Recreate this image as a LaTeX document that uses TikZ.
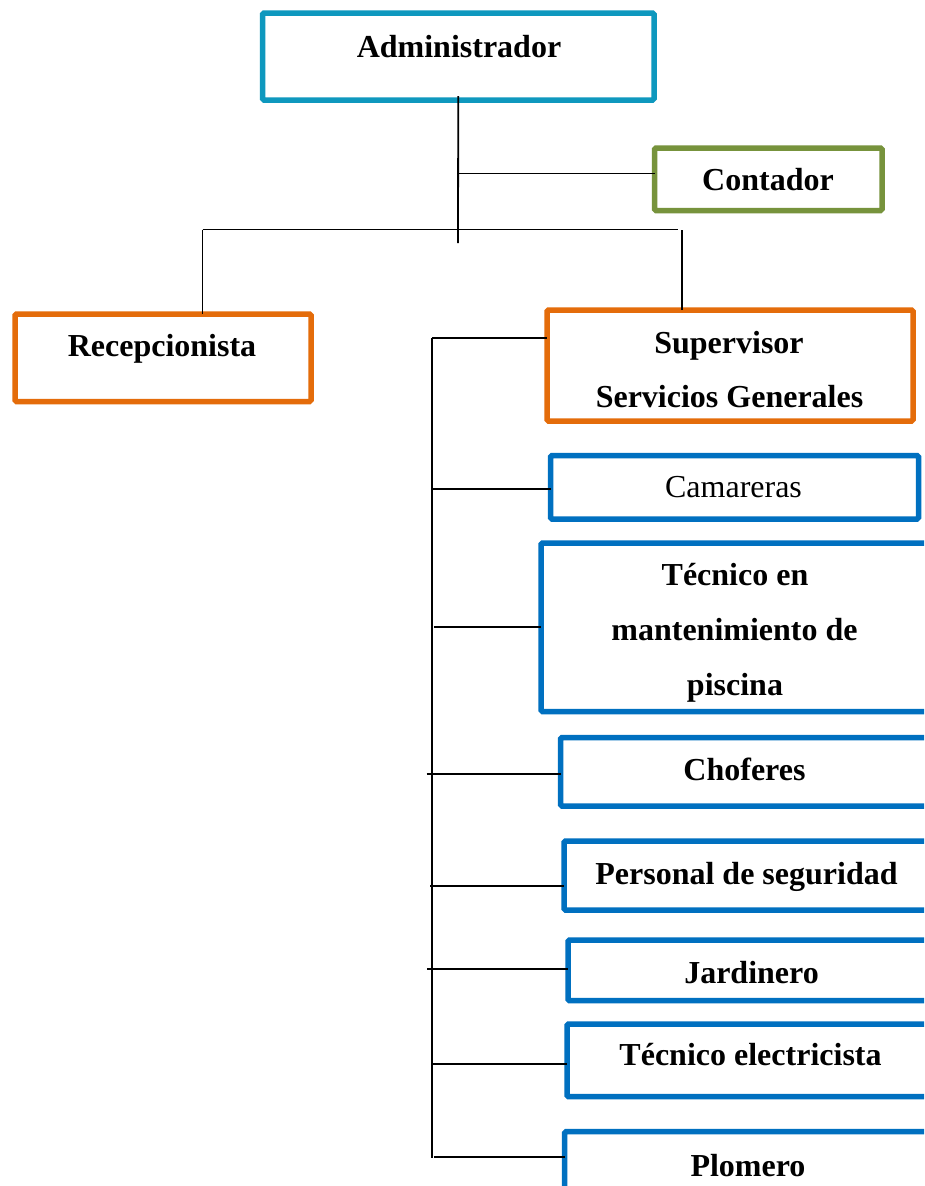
\documentclass[tikz,border=0pt]{standalone}
\usepackage{fontspec}
\setmainfont{Liberation Serif}
\definecolor{admc}{RGB}{14,152,190}
\definecolor{conc}{RGB}{119,147,60}
\definecolor{orgc}{RGB}{228,108,10}
\definecolor{bluc}{RGB}{0,112,192}
\begin{document}
\begin{tikzpicture}[x=1pt,y=-1pt,
  box/.style={draw, line width=5.5pt, rounded corners=1.5pt, inner sep=0pt, outer sep=0pt},
  lbl/.style={font=\fontsize{32}{38}\selectfont\bfseries, anchor=base, inner sep=0pt, outer sep=0pt},
  lblr/.style={font=\fontsize{32}{38}\selectfont, anchor=base, inner sep=0pt, outer sep=0pt},
  conn/.style={line width=1.8pt, black}]
\useasboundingbox (0,0) rectangle (924,1186);
\clip (0,0) rectangle (924,1186);
\fill[white] (0,0) rectangle (924,1186);

% boxes
\node[box, draw=admc, minimum width=391.5pt, minimum height=87pt] (adm) at (458.25,56.5) {};
\node[box, draw=conc, minimum width=227.5pt, minimum height=62.5pt] (con) at (768.25,179.25) {};
\node[box, draw=orgc, minimum width=296pt, minimum height=87.5pt] (rec) at (163,357.75) {};
\node[box, draw=orgc, minimum width=366pt, minimum height=111pt] (sup) at (730,365.5) {};
\node[box, draw=bluc, minimum width=368pt, minimum height=63.5pt] (cam) at (734.5,487.25) {};
\node[box, draw=bluc, minimum width=399pt, minimum height=168.5pt] (tec) at (740.5,627.25) {};
\node[box, draw=bluc, minimum width=379.5pt, minimum height=68.5pt] (cho) at (750.25,771.75) {};
\node[box, draw=bluc, minimum width=376pt, minimum height=69pt] (per) at (752,875.5) {};
\node[box, draw=bluc, minimum width=372pt, minimum height=60.7pt] (jar) at (754,970.35) {};
\node[box, draw=bluc, minimum width=373pt, minimum height=72.7pt] (tel) at (753.5,1060.35) {};
\node[box, draw=bluc, minimum width=375.5pt, minimum height=68.3pt] (plo) at (752.25,1165.85) {};

% labels
\node[lbl] (admT) at (459,57) {Administrador};
\node[lbl] (conT) at (768,190) {Contador};
\node[lbl] (recT) at (162,356) {Recepcionista};
\node[lbl] (supT1) at (729,353) {Supervisor};
\node[lbl] (supT2) at (729.5,407.5) {Servicios Generales};
\node[lblr] (camT) at (733.5,497) {Camareras};
\node[lbl] (tecT1) at (735,585.5) {Técnico en};
\node[lbl] (tecT2) at (734.5,640.5) {mantenimiento de};
\node[lbl] (tecT3) at (735,695.5) {piscina};
\node[lbl] (choT) at (744.5,780) {Choferes};
\node[lbl] (perT) at (746.5,884) {Personal de seguridad};
\node[lbl] (jarT) at (751.5,983) {Jardinero};
\node[lbl] (telT) at (750.5,1065) {Técnico electricista};
\node[lbl] (ploT) at (748,1176) {Plomero};

% connector coordinates
\coordinate (jC) at (458,173.5);
\coordinate (jB) at (458,243);
\coordinate (busL) at (202.5,229.5);
\coordinate (busM) at (678,229.5);
\coordinate (busR) at (682,230);
\coordinate (vTop) at (432,338.3);
\coordinate (vBot) at (432,1157.7);

% connectors
\draw[conn] ([yshift=4pt]adm.south) -- (jB);
\draw[conn] (jC) -- (jC -| con.west);
\draw[conn] (busL) -- (busM);
\draw[conn] (busL) -- (busL |- rec.north);
\draw[conn] (busR) -- (busR |- sup.north);
\draw[conn] (vTop) -- (vBot);
\draw[conn] (vTop) -- (vTop -| sup.west);
\draw[conn] (432,488.7) -- (cam.west |- 0,488.7);
\draw[conn] (434,626.7) -- (tec.west |- 0,626.7);
\draw[conn] (426.7,773.7) -- (cho.west |- 0,773.7);
\draw[conn] (430,885.7) -- (per.west |- 0,885.7);
\draw[conn] (427.3,969.3) -- (jar.west |- 0,969.3);
\draw[conn] (432,1064.3) -- (tel.west |- 0,1064.3);
\draw[conn] (434,1156.7) -- (plo.west |- 0,1156.7);
\end{tikzpicture}
\end{document}
